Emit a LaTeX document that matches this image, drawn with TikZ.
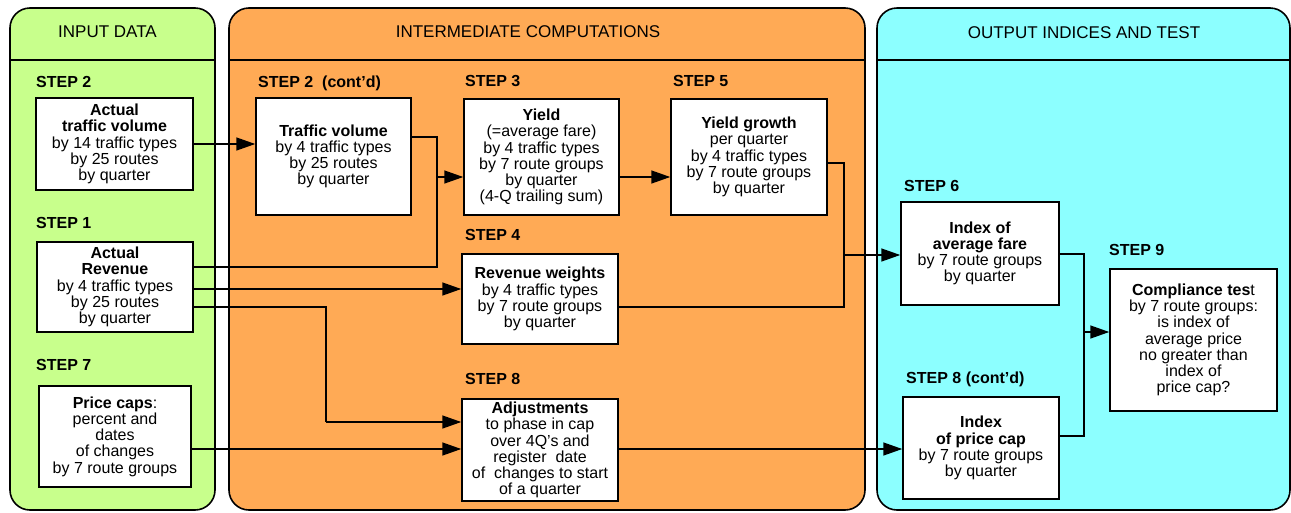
\documentclass[tikz,border=0pt]{standalone}
\usepackage{fontspec}
\setmainfont{Liberation Sans}
\usetikzlibrary{arrows.meta}
\definecolor{ingreen}{RGB}{200,255,140}
\definecolor{midorange}{RGB}{255,170,85}
\definecolor{outcyan}{RGB}{140,255,255}
\begin{document}
\begin{tikzpicture}[x=1pt,y=-1pt,
  box/.style={draw, fill=white, line width=1.5pt, align=center, inner sep=0pt, font=\fontsize{16}{16.2}\selectfont},
  conn/.style={line width=1.5pt},
  arr/.style={conn, -{Triangle[length=19pt,width=13pt]}},
  steplbl/.style={anchor=base west, inner sep=0pt, font=\bfseries\fontsize{16}{16}\selectfont},
  hdr/.style={anchor=base, inner sep=0pt, font=\fontsize{17}{17}\selectfont},
  panel/.style={draw, line width=1.6pt, rounded corners=20pt}]
\useasboundingbox (0,0) rectangle (1291,512);

% panels
\draw[panel, fill=ingreen] (10,8) rectangle (215,510);
\draw[line width=1.5pt] (10,60) -- (215,60);
\draw[panel, fill=midorange] (229,8) rectangle (865,510);
\draw[line width=1.5pt] (229,60) -- (865,60);
\draw[panel, fill=outcyan] (877,8) rectangle (1290,510);
\draw[line width=1.5pt] (877,60) -- (1290,60);

\node[hdr] (h1) at (107.5,37) {INPUT DATA};
\node[hdr] (h2) at (528,37) {INTERMEDIATE COMPUTATIONS};
\node[hdr] (h3) at (1084,38) {OUTPUT INDICES AND TEST};

% step labels
\node[steplbl] (s2) at (36,87) {STEP 2};
\node[steplbl] (s2c) at (258,87) {STEP 2\ \ (cont’d)};
\node[steplbl] (s1) at (36,228) {STEP 1};
\node[steplbl] (s7) at (36,370) {STEP 7};
\node[steplbl] (s3) at (465,86) {STEP 3};
\node[steplbl] (s5) at (673,86) {STEP 5};
\node[steplbl] (s4) at (465,240) {STEP 4};
\node[steplbl] (s8) at (465,384) {STEP 8};
\node[steplbl] (s6) at (904,191) {STEP 6};
\node[steplbl] (s9) at (1109,255) {STEP 9};
\node[steplbl] (s8c) at (906,383) {STEP 8 (cont’d)};

% boxes
\node[box, minimum width=157pt, minimum height=92pt] (actvol) at (114.5,144)
  {\textbf{Actual}\\\textbf{traffic volume}\\by 14 traffic types\\by 25 routes\\by quarter};
\node[box, minimum width=155pt, minimum height=117pt] (trvol) at (333.5,156.5)
  {\textbf{Traffic volume}\\by 4 traffic types\\by 25 routes\\by quarter};
\node[box, minimum width=156pt, minimum height=90pt] (actrev) at (115,287)
  {\textbf{Actual}\\\textbf{Revenue}\\by 4 traffic types\\by 25 routes\\by quarter};
\node[box, minimum width=152pt, minimum height=101pt] (pcaps) at (115,436.5)
  {\textbf{Price caps}:\\percent and\\dates\\of changes\\by 7 route groups};
\node[box, minimum width=155pt, minimum height=116pt] (yield) at (541.5,157)
  {\textbf{Yield}\\(=average fare)\\by 4 traffic types\\by 7 route groups\\by quarter\\(4-Q trailing sum)};
\node[box, minimum width=156pt, minimum height=116pt] (ygrowth) at (749,157)
  {\textbf{Yield growth}\\per quarter\\by 4 traffic types\\by 7 route groups\\by quarter};
\node[box, minimum width=156pt, minimum height=90pt] (revw) at (540,299)
  {\textbf{Revenue weights}\\by 4 traffic types\\by 7 route groups\\by quarter};
\node[box, minimum width=156pt, minimum height=102pt] (adj) at (540,450)
  {\textbf{Adjustments}\\to phase in cap\\over 4Q’s and\\register\ \ date\\of\ \ changes to start\\of a quarter};
\node[box, minimum width=158pt, minimum height=103pt] (idxfare) at (980,253.5)
  {\textbf{Index of}\\\textbf{average fare}\\by 7 route groups\\by quarter};
\node[box, minimum width=156pt, minimum height=102pt] (idxcap) at (981,448)
  {\textbf{Index}\\\textbf{of price cap}\\by 7 route groups\\by quarter};
\node[box, minimum width=167pt, minimum height=142pt] (comp) at (1193.5,340)
  {\textbf{Compliance tes}t\\by 7 route groups:\\is index of\\average price\\no greater than\\index of\\price cap?};

% junction coordinates
\coordinate (jA) at (437,137);
\coordinate (jB) at (437,177);
\coordinate (jC) at (437,267);
\coordinate (r289) at (0,289);
\coordinate (k1) at (326,307);
\coordinate (k2) at (326,422);
\coordinate (r449) at (0,449);
\coordinate (r177) at (0,177);
\coordinate (g1) at (844,163);
\coordinate (g2) at (844,255);
\coordinate (g3) at (844,307);
\coordinate (c1) at (1084,254);
\coordinate (c2) at (1084,332);
\coordinate (c3) at (1084,436);

% connectors
\draw[arr] (actvol.east) -- (actvol.east -| trvol.west);
\draw[conn] (trvol.east |- jA) -- (jA) -- (jC) -- (actrev.east |- jC);
\draw[arr] (jB) -- (jB -| yield.west);
\draw[arr] (actrev.east |- r289) -- (revw.west |- r289);
\draw[conn] (actrev.east |- k1) -- (k1) -- (k2);
\draw[arr] (k2) -- (adj.west |- k2);
\draw[arr] (pcaps.east |- r449) -- (adj.west |- r449);
\draw[arr] (yield.east |- r177) -- (ygrowth.west |- r177);
\draw[conn] (ygrowth.east |- g1) -- (g1) -- (g3) -- (revw.east |- g3);
\draw[arr] (g2) -- (idxfare.west |- g2);
\draw[arr] (adj.east |- r449) -- (idxcap.west |- r449);
\draw[conn] (idxfare.east |- c1) -- (c1) -- (c3) -- (idxcap.east |- c3);
\draw[arr] (c2) -- (comp.west |- c2);
\end{tikzpicture}
\end{document}
